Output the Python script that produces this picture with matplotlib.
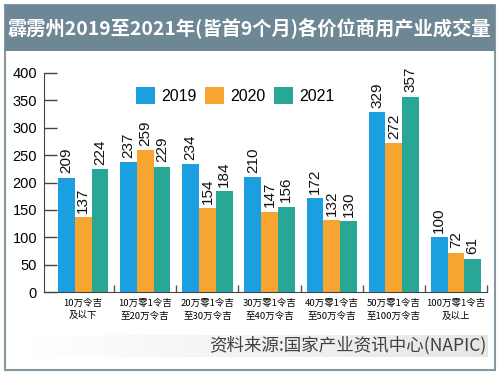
import matplotlib
matplotlib.use("Agg")
import matplotlib.pyplot as plt
import numpy as np
from matplotlib.patches import Rectangle

categories = ["10万令吉\n及以下", "10万零1令吉\n至20万令吉", "20万零1令吉\n至30万令吉",
              "30万零1令吉\n至40万令吉", "40万零1令吉\n至50万令吉", "50万零1令吉\n至100万令吉",
              "100万零1令吉\n及以上"]
years = ["2019", "2020", "2021"]
v2019 = [209, 237, 234, 210, 172, 329, 100]
v2020 = [137, 259, 154, 147, 132, 272, 72]
v2021 = [224, 229, 184, 156, 130, 357, 61]
yticks = [0, 50, 100, 150, 200, 250, 300, 350, 400]
title = "霹雳州2019至2021年(皆首9个月)各价位商用产业成交量"
source = "资料来源:国家产业资讯中心(NAPIC)"

colors = ["#1b9fe0", "#f6a531", "#28a797"]
cjk = ["Noto Sans CJK SC", "DejaVu Sans"]
num = ["Liberation Sans", "DejaVu Sans"]

fig = plt.figure(figsize=(5, 3.75), dpi=100)
W, H = 500, 375
def fx(x): return x / W
def fy(y): return 1 - y / H

# panel border
fig.patches.append(Rectangle((fx(5), fy(370)), fx(490), (365) / H, transform=fig.transFigure,
                             facecolor="white", edgecolor="#8797a1", linewidth=1.5, zorder=-5))
# title bar
fig.patches.append(Rectangle((fx(5), fy(51)), fx(490), 46 / H, transform=fig.transFigure,
                             facecolor="#6e8795", edgecolor="none", zorder=-4))
fig.text(fx(249), fy(28), title, ha="center", va="center", color="white",
         fontsize=13.9, fontweight="bold", family=cjk)

# source band with gradient
bax = fig.add_axes([fx(15), fy(357), fx(473), 22 / H])
bax.set_zorder(-3)
grad = np.linspace(1.0, 0.9, 256).reshape(1, -1)
bax.imshow(grad, aspect="auto", cmap="gray", vmin=0, vmax=1, extent=[0, 1, 0, 1])
bax.axis("off")
fig.text(fx(487), fy(345), source, ha="right", va="center", color="#404040",
         fontsize=12.6, family=cjk)

ax = fig.add_axes([fx(44), fy(292), fx(487 - 44), (292 - 73) / H])
x = np.arange(len(categories))
w = 0.27
series = [v2019, v2020, v2021]
for i, (vals, yr, c) in enumerate(zip(series, years, colors)):
    xs = x + (i - 1) * w
    ax.bar(xs, vals, width=w, color=c, label=yr, zorder=2)
    for xi, v in zip(xs, vals):
        ax.annotate(str(v), (xi, v), xytext=(0, 3), textcoords="offset points",
                    rotation=90, ha="center", va="bottom", fontsize=11, family=num,
                    color="#111111")

ax.set_xlim(-0.63, 6.5)
ax.set_ylim(0, 400)
ax.set_yticks(yticks)
ax.set_yticklabels([str(t) for t in yticks], family=num, fontsize=10.5)
ax.tick_params(axis="y", direction="in", length=9, width=1, color="#444444", pad=5)
ax.set_xticks(x)
ax.set_xticklabels(categories, family=cjk, fontsize=6.8, linespacing=1.45)
ax.tick_params(axis="x", length=0, pad=5)
ax.set_xticks(np.arange(len(categories)) + 0.5, minor=True)
ax.tick_params(axis="x", which="minor", direction="in", length=5, width=1, color="#555555")
for s in ["top", "right"]:
    ax.spines[s].set_visible(False)
ax.spines["left"].set_color("#444444")
ax.spines["bottom"].set_color("#444444")
ax.patch.set_alpha(0)

leg = ax.legend(loc="upper left", bbox_to_anchor=(0.175, 1.0), ncol=3, frameon=False,
                prop={"family": num, "size": 11.5}, handlelength=1.2, handleheight=1.2,
                columnspacing=0.5, handletextpad=0.4)

fig.savefig("out.png", dpi=100)
